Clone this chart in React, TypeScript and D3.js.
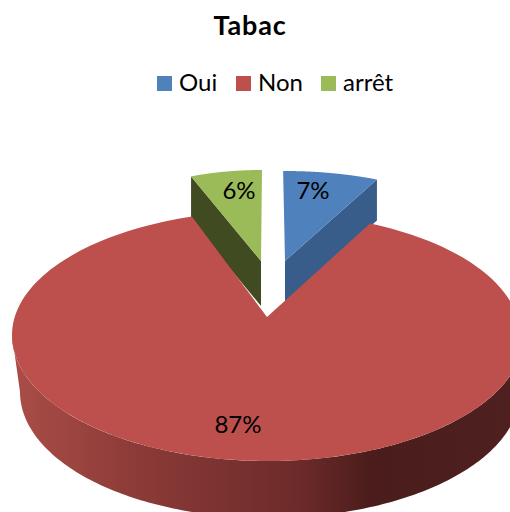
import React from "react";
import * as d3 from "d3";

const title = "Tabac";
const categories = ["Oui", "Non", "arrêt"];
const values = [7, 87, 6];
const labels = ["7%", "87%", "6%"];
const colors = ["#4f81bd", "#bd504d", "#9bbb59"];
const wallColors = ["#385d8a", "#7a2f2d", "#404b22"];

const FONT = "Lato, Carlito, Calibri, sans-serif";
const W = 510;
const H = 512;

const pie = d3.pie<number>().sort(null).startAngle(0).endAngle(2 * Math.PI);
const arcs = pie(values);

type P = [number, number];
// each quadrant of a projected rim has its own radii: [rx, ry]
type E = { cx: number; cy: number; ne: P; se: P; sw: P; nw: P };
const even = (cx: number, cy: number, rx: number, ry: number): E => ({
  cx, cy, ne: [rx, ry], se: [rx, ry], sw: [rx, ry], nw: [rx, ry],
});
const pt = (e: E, a: number): P => {
  const s = Math.sin(a);
  const c = Math.cos(a);
  const r = s >= 0 ? (c >= 0 ? e.ne : e.se) : c >= 0 ? e.nw : e.sw;
  return [e.cx + r[0] * s, e.cy - r[1] * c];
};
const samples = (e: E, a0: number, a1: number): P[] =>
  d3.range(0, 181).map((i) => pt(e, a0 + ((a1 - a0) * i) / 180));
const line = d3.line<P>().x((d) => d[0]).y((d) => d[1]);
const deg = Math.PI / 180;

// Oui
const blueTop = even(285, 261, 216, 90);
const blueDepth = 41;
// arrêt
const greenTop = even(261, 261, 190, 91);
const greenDepth = 45;
// Non
const redTop: E = { cx: 268, cy: 335, ne: [252, 122], se: [256, 126], sw: [256, 126], nw: [256, 124] };
const redBottom: E = { cx: 268, cy: 392, ne: [252, 126], se: [252, 126], sw: [248, 126], nw: [248, 126] };
const redApex: P = [267, 317];

function wedge(e: E, a0: number, a1: number, apex: P): string {
  return line([apex, ...samples(e, a0, a1)])! + "Z";
}
function wall(e: E, a: number, depth: number): string {
  const c = pt(e, a);
  const apex: P = [e.cx, e.cy];
  return line([apex, c, [c[0], c[1] + depth], [apex[0], apex[1] + depth]])! + "Z";
}

const legendX = [157, 236, 321];
const gradStops: [number, string][] = [
  [0, "#a84c47"],
  [0.25, "#8b3a37"],
  [0.57, "#6c2b2a"],
  [0.72, "#4a1c1b"],
  [1, "#4e201f"],
];

export default function App() {
  const [oui, non, arret] = arcs;
  const full = 2 * Math.PI;
  return (
    <svg
      width={W}
      height={H}
      viewBox={`0 0 ${W} ${H}`}
      style={{ position: "absolute", left: 0, top: 0, display: "block", background: "#fff" }}
    >
      <defs>
        <linearGradient id="redSide" gradientUnits="userSpaceOnUse" x1={20} x2={510} y1={0} y2={0}>
          {gradStops.map(([o, c]) => (
            <stop key={o} offset={o} stopColor={c} />
          ))}
        </linearGradient>
      </defs>

      <text x={250} y={34.5} textAnchor="middle" fontFamily={FONT} fontWeight={700} fontSize={27} letterSpacing={0.8} fill="#000">
        {title}
      </text>

      {categories.map((c, i) => (
        <g key={c}>
          <rect x={legendX[i]} y={76} width={15} height={15} fill={colors[i]} />
          <text x={legendX[i] + 22} y={91} fontFamily={FONT} fontSize={24} fill="#000">
            {c}
          </text>
        </g>
      ))}

      {/* Oui */}
      <path d={wall(blueTop, oui.endAngle, blueDepth)} fill={wallColors[0]} />
      <path d={wedge(blueTop, oui.startAngle - 0.5 * deg, oui.endAngle, [blueTop.cx, blueTop.cy])} fill={colors[0]} />
      {/* arrêt */}
      <path d={wall(greenTop, arret.startAngle - full, greenDepth)} fill={wallColors[2]} />
      <path
        d={wedge(greenTop, arret.startAngle - full, arret.endAngle - full + 0.3 * deg, [greenTop.cx, greenTop.cy])}
        fill={colors[2]}
      />

      {/* Non: side wall then top */}
      <path
        d={
          line([
            ...samples(redTop, 80 * deg, 270 * deg),
            ...samples(redBottom, 270 * deg, 80 * deg),
          ])! + "Z"
        }
        fill="url(#redSide)"
      />
      <path d={wedge(redTop, non.startAngle - 1.3 * deg, non.endAngle + 4.3 * deg, redApex)} fill={colors[1]} />

      <text x={313} y={199} textAnchor="middle" fontFamily={FONT} fontSize={24} fill="#000">
        {labels[0]}
      </text>
      <text x={238} y={433} textAnchor="middle" fontFamily={FONT} fontSize={24} fill="#000">
        {labels[1]}
      </text>
      <text x={239} y={199} textAnchor="middle" fontFamily={FONT} fontSize={24} fill="#000">
        {labels[2]}
      </text>
    </svg>
  );
}
